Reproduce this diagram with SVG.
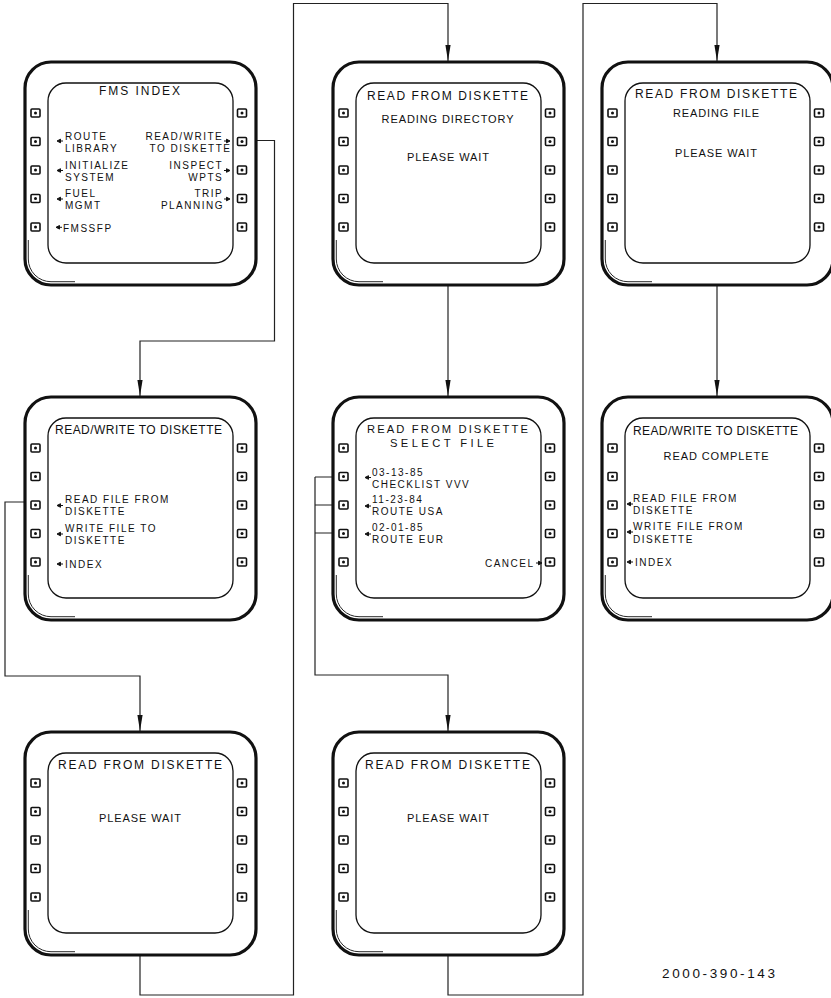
<svg xmlns="http://www.w3.org/2000/svg" xmlns:xlink="http://www.w3.org/1999/xlink" width="831" height="998" viewBox="0 0 831 998">
<style>
.bez{fill:#fff;stroke:#111;stroke-width:3.2}
.scr{fill:none;stroke:#111;stroke-width:1.3}
.shd{fill:none;stroke:#111;stroke-width:0.9}
.btn{fill:#fff;stroke:#111;stroke-width:1.6}
.dot{fill:#111}
.con{fill:none;stroke:#222;stroke-width:1.2}
.ar{fill:#111;stroke:#111;stroke-width:1}
text{font-family:"Liberation Sans",Arial,sans-serif;fill:#111}
.t{font-size:12px}
.t2{font-size:11.2px}
.l{font-size:10px;letter-spacing:1.5px}
.r{font-size:10px;letter-spacing:1.5px;text-anchor:end}
.c{font-size:11px;letter-spacing:0.9px;text-anchor:middle}
.fig{font-size:13.5px}
</style>
<defs>
<marker id="head" viewBox="0 0 16 6" refX="16" refY="3" markerWidth="16" markerHeight="6" orient="auto" markerUnits="userSpaceOnUse">
<path d="M0,0.4 L16,3 L0,5.6 Z" fill="#111"/>
</marker>
<g id="frame">
<rect class="bez" x="0" y="0" width="231" height="223" rx="26" ry="26"/>
<path class="shd" d="M3.3,178 V197 A22.7,22.7 0 0 0 26,219.7 H50"/>
<rect class="scr" x="23" y="21" width="185" height="180" rx="18" ry="18"/>
<rect class="btn" x="6" y="47" width="9" height="8" rx="1"/>
<rect class="btn" x="6" y="75.5" width="9" height="8" rx="1"/>
<rect class="btn" x="6" y="104" width="9" height="8" rx="1"/>
<rect class="btn" x="6" y="132.5" width="9" height="8" rx="1"/>
<rect class="btn" x="6" y="161" width="9" height="8" rx="1"/>
<rect class="btn" x="212.5" y="47" width="9" height="8" rx="1"/>
<rect class="btn" x="212.5" y="75.5" width="9" height="8" rx="1"/>
<rect class="btn" x="212.5" y="104" width="9" height="8" rx="1"/>
<rect class="btn" x="212.5" y="132.5" width="9" height="8" rx="1"/>
<rect class="btn" x="212.5" y="161" width="9" height="8" rx="1"/>
<circle class="dot" cx="10.5" cy="51" r="1.5"/>
<circle class="dot" cx="10.5" cy="79.5" r="1.5"/>
<circle class="dot" cx="10.5" cy="108" r="1.5"/>
<circle class="dot" cx="10.5" cy="136.5" r="1.5"/>
<circle class="dot" cx="10.5" cy="165" r="1.5"/>
<circle class="dot" cx="217" cy="51" r="1.5"/>
<circle class="dot" cx="217" cy="79.5" r="1.5"/>
<circle class="dot" cx="217" cy="108" r="1.5"/>
<circle class="dot" cx="217" cy="136.5" r="1.5"/>
<circle class="dot" cx="217" cy="165" r="1.5"/>
</g>
<path id="al" class="ar" d="M0,0 L3.5,-1.8 L3.5,1.8 Z M3,0 H6"/>
<path id="arr" class="ar" d="M0,0 L-3.5,-1.8 L-3.5,1.8 Z M-3,0 H-6"/>
</defs>

<g id="connectors">
<path class="con" d="M247,140.5 H274.5 V341 H140 V396" marker-end="url(#head)"/>
<path class="con" d="M25,502 H5 V676 H140 V731" marker-end="url(#head)"/>
<path class="con" d="M140,955 V995 H293.5 V3.5 H448 V61" marker-end="url(#head)"/>
<path class="con" d="M448,285 V396" marker-end="url(#head)"/>
<path class="con" d="M332,477 H315 M332,505 H315 M332,533 H315"/>
<path class="con" d="M315,477 V675 H448 V731" marker-end="url(#head)"/>
<path class="con" d="M448,954 V995 H583 V3.5 H717 V61" marker-end="url(#head)"/>
<path class="con" d="M717,285 V396" marker-end="url(#head)"/>
</g>

<g id="node-fms-index">
<use xlink:href="#frame" x="25" y="62"/>
<text class="t" x="99" y="95" textLength="81" lengthAdjust="spacing">FMS INDEX</text>
<use xlink:href="#al" x="57" y="141"/>
<text class="l" x="65" y="139.5">ROUTE</text>
<text class="l" x="65" y="151.5">LIBRARY</text>
<use xlink:href="#al" x="57" y="170.5"/>
<text class="l" x="65" y="169">INITIALIZE</text>
<text class="l" x="65" y="180.7">SYSTEM</text>
<use xlink:href="#al" x="57" y="199"/>
<text class="l" x="65" y="197.3">FUEL</text>
<text class="l" x="65" y="209.3">MGMT</text>
<use xlink:href="#al" x="56" y="227.3"/>
<text class="l" x="63" y="231.5">FMSSFP</text>
<use xlink:href="#arr" x="230" y="141"/>
<text class="r" x="223.2" y="139.5">READ/WRITE</text>
<text class="r" x="231.5" y="151.5">TO DISKETTE</text>
<use xlink:href="#arr" x="230" y="170.5"/>
<text class="r" x="223.2" y="169">INSPECT</text>
<text class="r" x="223.2" y="180.7">WPTS</text>
<use xlink:href="#arr" x="230" y="199"/>
<text class="r" x="223.2" y="197.3">TRIP</text>
<text class="r" x="224" y="209.3">PLANNING</text>
</g>

<g id="node-reading-directory">
<use xlink:href="#frame" x="333" y="62"/>
<text class="t" x="367" y="100" textLength="161" lengthAdjust="spacing">READ FROM DISKETTE</text>
<text class="c" x="448" y="123">READING DIRECTORY</text>
<text class="c" x="448.5" y="161">PLEASE WAIT</text>
</g>

<g id="node-reading-file">
<use xlink:href="#frame" x="602" y="62"/>
<text class="t" x="635" y="98" textLength="162" lengthAdjust="spacing">READ FROM DISKETTE</text>
<text class="c" x="716.5" y="117">READING FILE</text>
<text class="c" x="716.5" y="157">PLEASE WAIT</text>
</g>

<g id="node-read-write">
<use xlink:href="#frame" x="25" y="397"/>
<text class="t" x="55" y="434" textLength="167" lengthAdjust="spacing">READ/WRITE TO DISKETTE</text>
<use xlink:href="#al" x="57" y="505.5"/>
<text class="l" x="65" y="503">READ FILE FROM</text>
<text class="l" x="65" y="515">DISKETTE</text>
<use xlink:href="#al" x="57" y="534"/>
<text class="l" x="65" y="532">WRITE FILE TO</text>
<text class="l" x="65" y="544">DISKETTE</text>
<use xlink:href="#al" x="57" y="564"/>
<text class="l" x="65" y="567.5">INDEX</text>
</g>

<g id="node-select-file">
<use xlink:href="#frame" x="333" y="397"/>
<text class="t2" x="367" y="432.5" textLength="161" lengthAdjust="spacing">READ FROM DISKETTE</text>
<text class="t2" x="390" y="446.5" textLength="104" lengthAdjust="spacing">SELECT FILE</text>
<use xlink:href="#al" x="365" y="477.5"/>
<text class="l" x="372" y="475.5">03-13-85</text>
<text class="l" x="372" y="487.5">CHECKLIST VVV</text>
<use xlink:href="#al" x="365" y="506"/>
<text class="l" x="372" y="503.3">11-23-84</text>
<text class="l" x="372" y="515.3">ROUTE USA</text>
<use xlink:href="#al" x="365" y="534"/>
<text class="l" x="372" y="531">02-01-85</text>
<text class="l" x="372" y="543">ROUTE EUR</text>
<use xlink:href="#arr" x="542" y="563"/>
<text class="r" x="534.5" y="567">CANCEL</text>
</g>

<g id="node-read-complete">
<use xlink:href="#frame" x="602" y="397"/>
<text class="t" x="633" y="435" textLength="165" lengthAdjust="spacing">READ/WRITE TO DISKETTE</text>
<text class="c" x="716.5" y="460">READ COMPLETE</text>
<use xlink:href="#al" x="627" y="504"/>
<text class="l" x="633" y="502">READ FILE FROM</text>
<text class="l" x="633" y="513.5">DISKETTE</text>
<use xlink:href="#al" x="627" y="532"/>
<text class="l" x="633" y="530">WRITE FILE FROM</text>
<text class="l" x="633" y="542.5">DISKETTE</text>
<use xlink:href="#al" x="627" y="562"/>
<text class="l" x="635" y="565.5">INDEX</text>
</g>

<g id="node-please-wait-1">
<use xlink:href="#frame" x="25" y="732"/>
<text class="t" x="58" y="769" textLength="164" lengthAdjust="spacing">READ FROM DISKETTE</text>
<text class="c" x="140.5" y="822">PLEASE WAIT</text>
</g>

<g id="node-please-wait-2">
<use xlink:href="#frame" x="333" y="732"/>
<text class="t" x="365" y="769" textLength="165" lengthAdjust="spacing">READ FROM DISKETTE</text>
<text class="c" x="448.5" y="822">PLEASE WAIT</text>
</g>

<text class="fig" x="662" y="978" textLength="113" lengthAdjust="spacing">2000-390-143</text>
</svg>
